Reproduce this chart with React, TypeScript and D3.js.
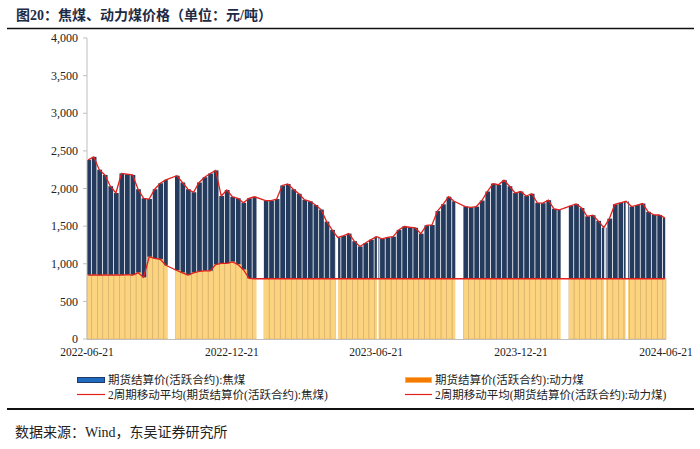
import React from 'react';
import * as d3 from 'd3';

// Weekly (Monday-start) categories from 2022-06-20 to 2024-06-17
const weekStarts: Date[] = d3.timeMonday.range(new Date(2022, 5, 20), new Date(2024, 5, 18));

// 期货结算价(活跃合约):焦煤 — weekly read values (null = holiday week)
const cokingCoal: (number | null)[] = [
  2380, 2420, 2250, 2180, 2030, 1940, 2200, 2190, 2180, 1990,
  1870, 1860, 1990, 2070, 2115, null, 2170, 2080, 1990, 1950,
  2080, 2150, 2200, 2240, 1900, 1980, 1890, 1870, 1810, 1870,
  1890, null, 1840, 1840, 1860, 2040, 2060, 1990, 1930, 1850,
  1830, 1780, 1720, 1560, 1450, 1350, 1370, 1400, 1300, 1230,
  1275, 1320, 1360, 1330, 1350, 1360, 1450, 1495, 1485, 1478,
  1400, 1510, 1515, 1700, 1790, 1890, 1830, null, 1760, 1750,
  1760, 1840, 1960, 2065, 2050, 2110, 2030, 1940, 1960, 1900,
  1930, 1810, 1805, 1845, 1730, 1715, null, 1770, 1795, 1740,
  1630, 1645, 1570, 1480, 1600, 1790, 1810, 1830, 1760, 1780,
  1800, 1690, 1650, 1648, 1610,
];

// 期货结算价(活跃合约):动力煤 — weekly read values
const thermalCoal: (number | null)[] = [
  850, 852, 848, 852, 850, 852, 850, 855, 850, 880,
  820, 1090, 1070, 1060, 980, null, 910, 880, 850, 880,
  900, 905, 905, 990, 1005, 1005, 1025, 990, 920, 806,
  801, null, 801, 801, 801, 801, 801, 801, 801, 801,
  801, 801, 801, 801, 801, 801, 801, 801, 801, 801,
  801, 801, 801, 801, 801, 801, 801, 801, 801, 801,
  801, 801, 801, 801, 801, 801, 801, null, 801, 801,
  801, 801, 801, 801, 801, 801, 801, 801, 801, 801,
  801, 801, 801, 801, 801, 801, null, 801, 801, 801,
  801, 801, 801, 801, 801, 801, 801, 801, 801, 801,
  801, 801, 801, 801, 801,
];

// Exchange holidays (no trading)
const holidays: [string, string][] = [
  ['2022-10-01', '2022-10-10'],
  ['2023-01-21', '2023-01-30'],
  ['2023-05-01', '2023-05-04'],
  ['2023-06-22', '2023-06-24'],
  ['2023-09-29', '2023-10-09'],
  ['2024-02-09', '2024-02-19'],
  ['2024-04-04', '2024-04-06'],
  ['2024-05-01', '2024-05-04'],
];

const xTickLabels = ['2022-06-21', '2022-12-21', '2023-06-21', '2023-12-21', '2024-06-21'];
const yTickValues = [0, 500, 1000, 1500, 2000, 2500, 3000, 3500, 4000];

const title = '图20：焦煤、动力煤价格（单位：元/吨）';
const source = '数据来源：Wind，东吴证券研究所';
const legendItems = [
  '期货结算价(活跃合约):焦煤',
  '期货结算价(活跃合约):动力煤',
  '2周期移动平均(期货结算价(活跃合约):焦煤)',
  '2周期移动平均(期货结算价(活跃合约):动力煤)',
];

const parse = d3.timeParse('%Y-%m-%d');
const FONT = "'Liberation Serif', 'Times New Roman', 'Noto Sans CJK SC', serif";

export default function App() {
  const W = 700, H = 449;
  const left = 87, right = 666, top = 38, bottom = 339;
  const x = d3.scaleTime().domain([parse('2022-06-21')!, parse('2024-06-21')!]).range([left, right]);
  const y = d3.scaleLinear().domain([0, 4000]).range([bottom, top]);
  const fmt = d3.format(',');

  const barExtent = (m: Date) => {
    const x0 = Math.max(x(m), left);
    const x1 = Math.min(x(d3.timeDay.offset(m, 7)), right);
    return [x0, x1];
  };
  const center = (m: Date) => x(d3.timeHour.offset(m, 60));

  const lineGen = d3.line<[number, number]>().x(d => d[0]).y(d => d[1]);
  const pts = (arr: (number | null)[]) =>
    weekStarts
      .map((m, i) => (arr[i] == null ? null : ([center(m), y(arr[i] as number)] as [number, number])))
      .filter(Boolean) as [number, number][];

  const navy = '#243B5E';
  const orange = '#FCD37F';
  const red = '#E2211C';

  return (
    <svg width={W} height={H} style={{ position: 'absolute', left: 0, top: 0, background: '#fff' }} fontFamily={FONT}>
      {/* title */}
      <text x={16} y={20} fontSize={14} fontWeight="bold" fill="#1d2b45">{title}</text>
      <line x1={7} x2={694} y1={28.5} y2={28.5} stroke="#111" strokeWidth={1.6} />

      {/* coking coal bars */}
      {weekStarts.map((m, i) => {
        const v = cokingCoal[i];
        if (v == null) return null;
        const [x0, x1] = barExtent(m);
        return <rect key={'c' + i} x={x0} y={y(v)} width={Math.max(0, x1 - x0 - 0.8)} height={bottom - y(v)} fill={navy} />;
      })}
      {/* thermal coal bars */}
      {weekStarts.map((m, i) => {
        const v = thermalCoal[i];
        if (v == null) return null;
        const [x0, x1] = barExtent(m);
        return <rect key={'t' + i} x={x0} y={y(v)} width={Math.max(0, x1 - x0)} height={bottom - y(v)} fill={orange} stroke="#D8B06A" strokeWidth={0.6} />;
      })}
      {/* holiday gaps */}
      {holidays.map(([a, b], i) => {
        const x0 = x(parse(a)!), x1 = x(parse(b)!);
        return <rect key={'h' + i} x={x0} y={top} width={x1 - x0} height={bottom - top + 0.5} fill="#fff" />;
      })}

      {/* moving average lines */}
      <path d={lineGen(pts(cokingCoal)) || ''} fill="none" stroke={red} strokeWidth={1.3} />
      <path d={lineGen(pts(thermalCoal)) || ''} fill="none" stroke={red} strokeWidth={1.3} />

      {/* axes */}
      <line x1={left} x2={left} y1={top} y2={bottom} stroke="#BFBFBF" strokeWidth={1} />
      <line x1={left} x2={right} y1={bottom + 0.5} y2={bottom + 0.5} stroke="#BFBFBF" strokeWidth={1} />
      {yTickValues.map(v => (
        <g key={'y' + v}>
          <line x1={left - 4} x2={left} y1={y(v)} y2={y(v)} stroke="#BFBFBF" />
          <text x={78} y={y(v)} dy="0.35em" textAnchor="end" fontSize={12} fill="#222">{fmt(v)}</text>
        </g>
      ))}
      {xTickLabels.map(s => (
        <text key={s} x={x(parse(s)!)} y={356} textAnchor="middle" fontSize={11.5} fill="#222">{s}</text>
      ))}

      {/* legend */}
      <rect x={77.5} y={377.5} width={27} height={5} fill="#1E6BC0" stroke="#203A63" strokeWidth={1} />
      <text x={108} y={384} fontSize={11.5} fill="#222">{legendItems[0]}</text>
      <rect x={405.5} y={377.5} width={26} height={5} fill="#F47B00" stroke="#F9B25C" strokeWidth={1} />
      <text x={435} y={384} fontSize={11.5} fill="#222">{legendItems[1]}</text>
      <line x1={77} x2={105} y1={394.5} y2={394.5} stroke={red} strokeWidth={1.2} />
      <text x={108} y={399} fontSize={11.5} fill="#222">{legendItems[2]}</text>
      <line x1={405} x2={432} y1={394.5} y2={394.5} stroke={red} strokeWidth={1.2} />
      <text x={435} y={399} fontSize={11.5} fill="#222">{legendItems[3]}</text>

      <line x1={7} x2={694} y1={409} y2={409} stroke="#111" strokeWidth={2} />
      <text x={15} y={437} fontSize={14} fill="#222">{source}</text>
    </svg>
  );
}
